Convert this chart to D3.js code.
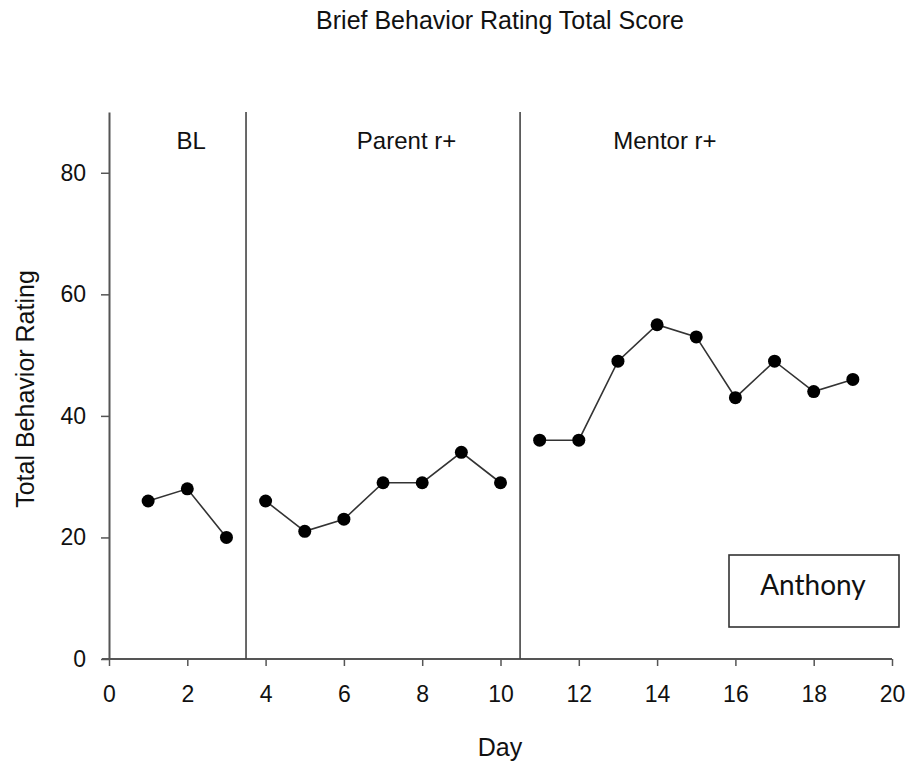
<!DOCTYPE html>
<html>
<head>
<meta charset="utf-8">
<script src="https://cdn.jsdelivr.net/npm/d3@7"></script>
<style>
  body { margin: 0; background: #fff; }
  text { font-family: "Liberation Sans", Arial, sans-serif; fill: #111; }
</style>
</head>
<body>
<div id="chart"></div>
<script>
var days = [1, 2, 3, 4, 5, 6, 7, 8, 9, 10, 11, 12, 13, 14, 15, 16, 17, 18, 19];
var scores = [26, 28, 20, 26, 21, 23, 29, 29, 34, 29, 36, 36, 49, 55, 53, 43, 49, 44, 46];
var phaseNames = ["BL", "Parent r+", "Mentor r+"];
var phaseStart = [1, 4, 11];
var phaseEnd = [3, 10, 19];
var phaseLabelDay = [2.1, 7.6, 14.2];
var phaseLines = [3.5, 10.5];
var xTicks = [0, 2, 4, 6, 8, 10, 12, 14, 16, 18, 20];
var yTicks = [0, 20, 40, 60, 80];

var margin = { top: 112, right: 20, bottom: 106, left: 109 },
    width = 912 - margin.left - margin.right,
    height = 765 - margin.top - margin.bottom;

var svg = d3.select("#chart")
    .append("svg")
    .attr("width", 912)
    .attr("height", 765);

var g = svg.append("g")
    .attr("transform", "translate(" + margin.left + "," + margin.top + ")");

var x = d3.scaleLinear().domain([0, 20]).range([0, 783]);
var y = d3.scaleLinear().domain([0, 90]).range([height, 0]);

// axes
var xAxis = g.append("g")
    .attr("transform", "translate(0," + height + ")")
    .call(d3.axisBottom(x).tickValues(xTicks).tickSize(7).tickPadding(20).tickSizeOuter(0));
var yAxis = g.append("g")
    .call(d3.axisLeft(y).tickValues(yTicks).tickSize(8).tickPadding(15).tickSizeOuter(0));

[xAxis, yAxis].forEach(function(a) {
    a.select(".domain").attr("stroke", "#555").attr("stroke-width", 2);
    a.selectAll(".tick line").attr("stroke", "#555").attr("stroke-width", 1.5);
    a.selectAll(".tick text")
        .style("font-family", "Liberation Sans, Arial, sans-serif")
        .style("font-size", "23px")
        .attr("fill", "#111");
});
// x axis line pokes a bit left of the y axis
xAxis.select(".domain").attr("d", "M-7,0H" + x(20));

// phase change lines
g.selectAll(".phase")
    .data(phaseLines)
    .enter()
    .append("line")
    .attr("x1", d => x(d))
    .attr("x2", d => x(d))
    .attr("y1", 0)
    .attr("y2", height)
    .attr("stroke", "#444")
    .attr("stroke-width", 1.6);

// phase labels
g.selectAll(".plabel")
    .data(phaseNames)
    .enter()
    .append("text")
    .attr("x", (d, i) => x(phaseLabelDay[i]))
    .attr("y", 37)
    .attr("text-anchor", "middle")
    .style("font-size", "24px")
    .text(d => d);

// data lines, broken at each phase
var line = d3.line().x(d => x(d.day)).y(d => y(d.score));
var pts = days.map((d, i) => ({ day: d, score: scores[i] }));
phaseStart.forEach(function(s, i) {
    var seg = pts.filter(p => p.day >= s && p.day <= phaseEnd[i]);
    g.append("path")
        .datum(seg)
        .attr("d", line)
        .attr("fill", "none")
        .attr("stroke", "#333")
        .attr("stroke-width", 1.6);
});

g.selectAll(".dot")
    .data(pts)
    .enter()
    .append("circle")
    .attr("cx", d => x(d.day))
    .attr("cy", d => y(d.score))
    .attr("r", 6.5)
    .attr("fill", "#000");

// name box
var bx = g.append("g").attr("transform", "translate(" + (729 - margin.left) + "," + (555 - margin.top) + ")");
bx.append("rect")
    .attr("width", 170)
    .attr("height", 72)
    .attr("fill", "#fff")
    .attr("stroke", "#333")
    .attr("stroke-width", 1.6);
bx.append("text")
    .attr("x", 84)
    .attr("y", 40)
    .attr("text-anchor", "middle")
    .style("font-family", "Lato, 'Open Sans', sans-serif")
    .style("font-size", "28px")
    .text("Anthony");

// titles
svg.append("text")
    .attr("x", 500)
    .attr("y", 29)
    .attr("text-anchor", "middle")
    .style("font-size", "25px")
    .text("Brief Behavior Rating Total Score");

svg.append("text")
    .attr("x", 500)
    .attr("y", 756)
    .attr("text-anchor", "middle")
    .style("font-size", "25px")
    .text("Day");

svg.append("text")
    .attr("transform", "translate(34,389) rotate(-90)")
    .attr("text-anchor", "middle")
    .style("font-size", "25px")
    .text("Total Behavior Rating");
</script>
</body>
</html>
